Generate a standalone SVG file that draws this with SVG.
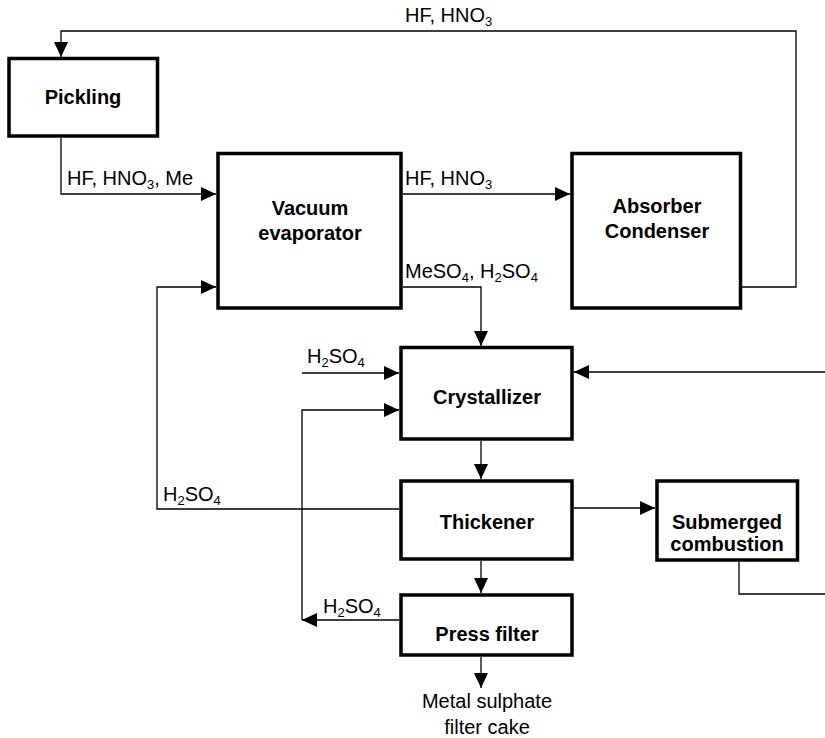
<svg xmlns="http://www.w3.org/2000/svg" width="825" height="738" viewBox="0 0 825 738">
<defs>
<marker id="arr" viewBox="0 0 15 14" markerWidth="15" markerHeight="14" refX="15" refY="7" orient="auto" markerUnits="userSpaceOnUse">
<path d="M0,0 L15,7 L0,14 z" fill="#000"/>
</marker>
<style>
.box{fill:#fff;stroke:#000;stroke-width:3.5}
.node{font-family:"Liberation Sans",Arial,sans-serif;font-size:20px;font-weight:bold;text-anchor:middle;fill:#000}
.lbl{font-family:"Liberation Sans",Arial,sans-serif;font-size:20px;fill:#000}
.mid{text-anchor:middle}
.sub{font-size:13px}
.con path{fill:none;stroke:#000;stroke-width:1.3}
</style>
</defs>
<rect width="825" height="738" fill="#fff"/>
<g id="connectors" class="con">
<path d="M742,287 H796 V31 H61 V57" marker-end="url(#arr)"/>
<path d="M61,138 V194 H216" marker-end="url(#arr)"/>
<path d="M403,194 H570" marker-end="url(#arr)"/>
<path d="M403,287 H481 V346" marker-end="url(#arr)"/>
<path d="M399,509 H157 V287 H216" marker-end="url(#arr)"/>
<path d="M302,373 H399" marker-end="url(#arr)"/>
<path d="M825,372 H574" marker-end="url(#arr)"/>
<path d="M399,620 H302" marker-end="url(#arr)"/>
<path d="M302,620 V410 H399" marker-end="url(#arr)"/>
<path d="M481,441 V479" marker-end="url(#arr)"/>
<path d="M481,561 V593" marker-end="url(#arr)"/>
<path d="M481,657 V688" marker-end="url(#arr)"/>
<path d="M574,508 H655" marker-end="url(#arr)"/>
<path d="M739,562 V594 H825"/>
</g>
<g id="labels">
<text class="lbl" x="405" y="22">HF, HNO<tspan class="sub" dy="4">3</tspan></text>
<text class="lbl" x="67" y="185">HF, HNO<tspan class="sub" dy="4">3</tspan><tspan dy="-4">, Me</tspan></text>
<text class="lbl" x="405" y="185">HF, HNO<tspan class="sub" dy="4">3</tspan></text>
<text class="lbl" x="405" y="278">MeSO<tspan class="sub" dy="4">4</tspan><tspan dy="-4">, H</tspan><tspan class="sub" dy="4">2</tspan><tspan dy="-4">SO</tspan><tspan class="sub" dy="4">4</tspan></text>
<text class="lbl" x="307" y="363">H<tspan class="sub" dy="4">2</tspan><tspan dy="-4">SO</tspan><tspan class="sub" dy="4">4</tspan></text>
<text class="lbl" x="163" y="501">H<tspan class="sub" dy="4">2</tspan><tspan dy="-4">SO</tspan><tspan class="sub" dy="4">4</tspan></text>
<text class="lbl" x="323" y="613">H<tspan class="sub" dy="4">2</tspan><tspan dy="-4">SO</tspan><tspan class="sub" dy="4">4</tspan></text>
<text class="lbl mid" x="487" y="708">Metal sulphate</text>
<text class="lbl mid" x="487" y="734">filter cake</text>
</g>
<g id="pickling">
<rect class="box" x="9" y="58.5" width="148.5" height="77.5"/>
<text class="node" x="83" y="104">Pickling</text>
</g>
<g id="vacuum-evaporator">
<rect class="box" x="218" y="153.5" width="183" height="154.5"/>
<text class="node" x="310" y="215">Vacuum</text>
<text class="node" x="310" y="240">evaporator</text>
</g>
<g id="absorber-condenser">
<rect class="box" x="572" y="153.5" width="168.5" height="154.5"/>
<text class="node" x="657" y="213">Absorber</text>
<text class="node" x="657" y="238">Condenser</text>
</g>
<g id="crystallizer">
<rect class="box" x="401" y="347.5" width="171" height="91.5"/>
<text class="node" x="487" y="404">Crystallizer</text>
</g>
<g id="thickener">
<rect class="box" x="401" y="481" width="171" height="78"/>
<text class="node" x="487" y="529">Thickener</text>
</g>
<g id="press-filter">
<rect class="box" x="401" y="595" width="171" height="60"/>
<text class="node" x="487" y="641">Press filter</text>
</g>
<g id="submerged-combustion">
<rect class="box" x="657" y="481" width="140.5" height="79"/>
<text class="node" x="727" y="529">Submerged</text>
<text class="node" x="727" y="551">combustion</text>
</g>
</svg>
